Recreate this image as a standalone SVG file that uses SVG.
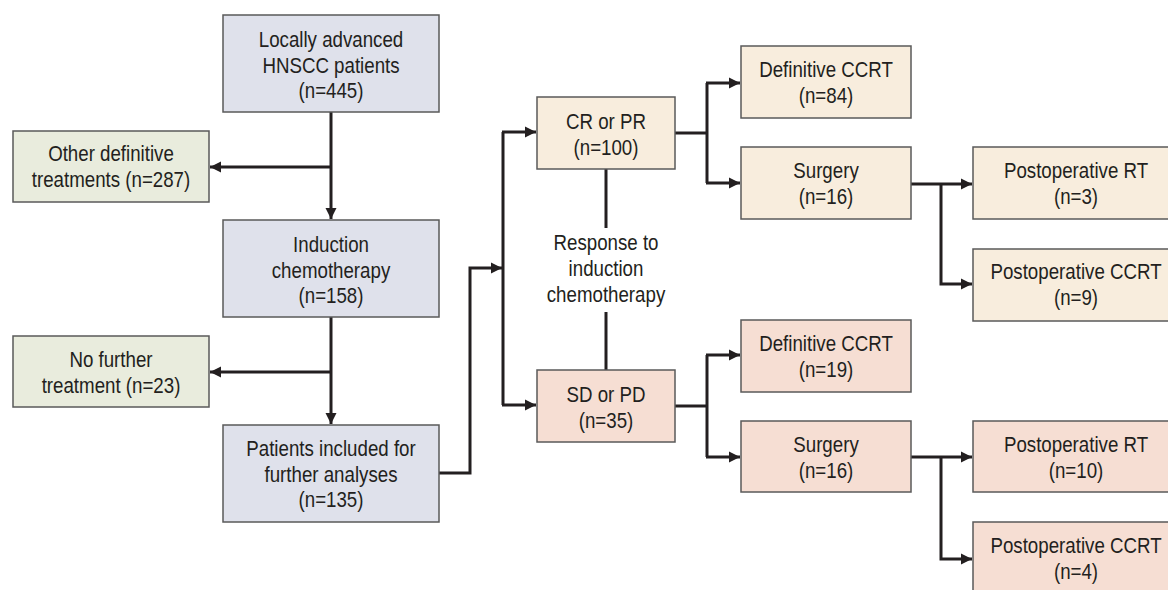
<svg xmlns="http://www.w3.org/2000/svg" width="1168" height="590" viewBox="0 0 1168 590">
<defs>
<marker id="ah" markerUnits="userSpaceOnUse" markerWidth="12" markerHeight="12" refX="11" refY="6" orient="auto">
<path d="M0,0.5 L11,6 L0,11.5 Z" fill="#231f20"/>
</marker>
<style>
.box{stroke:#5a5a5a;stroke-width:1.5}
.blue{fill:#dfe1eb}
.green{fill:#e9ecdd}
.cream{fill:#f8eddd}
.pink{fill:#f6ded3}
text{font-family:"Liberation Sans",Arial,sans-serif;font-size:21.5px;fill:#231f20;text-anchor:middle}
.ln{fill:none;stroke:#231f20;stroke-width:3}
.ar{fill:none;stroke:#231f20;stroke-width:3;marker-end:url(#ah)}
</style>
</defs>
<rect width="1168" height="590" fill="#ffffff"/>
<g id="connectors">
<path class="ar" d="M331,112 V219"/>
<path class="ar" d="M331,167 H210"/>
<path class="ar" d="M331,317 V424"/>
<path class="ar" d="M331,372 H210"/>
<path class="ar" d="M439,473 H470 V268 H502"/>
<path class="ln" d="M503,132 V405"/>
<path class="ar" d="M502,132 H536"/>
<path class="ar" d="M502,405 H536"/>
<path class="ln" d="M606,169 V228"/>
<path class="ln" d="M606,312 V370"/>
<path class="ln" d="M675,133 H707"/>
<path class="ln" d="M707,83 V183"/>
<path class="ar" d="M706,83 H740"/>
<path class="ar" d="M706,183 H740"/>
<path class="ln" d="M675,406 H707"/>
<path class="ln" d="M707,355 V457"/>
<path class="ar" d="M706,355 H740"/>
<path class="ar" d="M706,457 H740"/>
<path class="ar" d="M911,184 H972"/>
<path class="ar" d="M941,184 V284 H972"/>
<path class="ar" d="M911,457 H972"/>
<path class="ar" d="M941,457 V559 H972"/>
</g>
<g id="n-locally">
<rect class="box blue" x="223" y="15" width="216" height="97"/>
<text transform="translate(331 0) scale(0.87 1)" y="47">Locally advanced</text>
<text transform="translate(331 0) scale(0.87 1)" y="73">HNSCC patients</text>
<text transform="translate(331 0) scale(0.87 1)" y="98">(n=445)</text>
</g>
<g id="n-other">
<rect class="box green" x="13" y="131" width="196" height="71"/>
<text transform="translate(111 0) scale(0.87 1)" y="161">Other definitive</text>
<text transform="translate(111 0) scale(0.87 1)" y="187">treatments (n=287)</text>
</g>
<g id="n-induction">
<rect class="box blue" x="223" y="220" width="216" height="97"/>
<text transform="translate(331 0) scale(0.87 1)" y="252">Induction</text>
<text transform="translate(331 0) scale(0.87 1)" y="278">chemotherapy</text>
<text transform="translate(331 0) scale(0.87 1)" y="303">(n=158)</text>
</g>
<g id="n-nofurther">
<rect class="box green" x="13" y="336" width="196" height="71"/>
<text transform="translate(111 0) scale(0.87 1)" y="367">No further</text>
<text transform="translate(111 0) scale(0.87 1)" y="393">treatment (n=23)</text>
</g>
<g id="n-patients">
<rect class="box blue" x="223" y="425" width="216" height="97"/>
<text transform="translate(331 0) scale(0.87 1)" y="456">Patients included for</text>
<text transform="translate(331 0) scale(0.87 1)" y="482">further analyses</text>
<text transform="translate(331 0) scale(0.87 1)" y="507">(n=135)</text>
</g>
<g id="n-crpr">
<rect class="box cream" x="537" y="97" width="138" height="72"/>
<text transform="translate(606 0) scale(0.87 1)" y="129">CR or PR</text>
<text transform="translate(606 0) scale(0.87 1)" y="155">(n=100)</text>
</g>
<g id="n-response">
<text transform="translate(606 0) scale(0.87 1)" y="250">Response to</text>
<text transform="translate(606 0) scale(0.87 1)" y="276">induction</text>
<text transform="translate(606 0) scale(0.87 1)" y="302">chemotherapy</text>
</g>
<g id="n-sdpd">
<rect class="box pink" x="537" y="370" width="138" height="72"/>
<text transform="translate(606 0) scale(0.87 1)" y="402">SD or PD</text>
<text transform="translate(606 0) scale(0.87 1)" y="428">(n=35)</text>
</g>
<g id="n-defccrt1">
<rect class="box cream" x="741" y="46" width="170" height="72"/>
<text transform="translate(826 0) scale(0.87 1)" y="77">Definitive CCRT</text>
<text transform="translate(826 0) scale(0.87 1)" y="103">(n=84)</text>
</g>
<g id="n-surgery1">
<rect class="box cream" x="741" y="147" width="170" height="72"/>
<text transform="translate(826 0) scale(0.87 1)" y="178">Surgery</text>
<text transform="translate(826 0) scale(0.87 1)" y="204">(n=16)</text>
</g>
<g id="n-postrt1">
<rect class="box cream" x="973" y="147" width="206" height="72"/>
<text transform="translate(1076 0) scale(0.87 1)" y="178">Postoperative RT</text>
<text transform="translate(1076 0) scale(0.87 1)" y="204">(n=3)</text>
</g>
<g id="n-postccrt1">
<rect class="box cream" x="973" y="249" width="206" height="72"/>
<text transform="translate(1076 0) scale(0.87 1)" y="279">Postoperative CCRT</text>
<text transform="translate(1076 0) scale(0.87 1)" y="305">(n=9)</text>
</g>
<g id="n-defccrt2">
<rect class="box pink" x="741" y="320" width="170" height="72"/>
<text transform="translate(826 0) scale(0.87 1)" y="351">Definitive CCRT</text>
<text transform="translate(826 0) scale(0.87 1)" y="377">(n=19)</text>
</g>
<g id="n-surgery2">
<rect class="box pink" x="741" y="421" width="170" height="71"/>
<text transform="translate(826 0) scale(0.87 1)" y="452">Surgery</text>
<text transform="translate(826 0) scale(0.87 1)" y="478">(n=16)</text>
</g>
<g id="n-postrt2">
<rect class="box pink" x="973" y="421" width="206" height="71"/>
<text transform="translate(1076 0) scale(0.87 1)" y="452">Postoperative RT</text>
<text transform="translate(1076 0) scale(0.87 1)" y="478">(n=10)</text>
</g>
<g id="n-postccrt2">
<rect class="box pink" x="973" y="522" width="206" height="72"/>
<text transform="translate(1076 0) scale(0.87 1)" y="553">Postoperative CCRT</text>
<text transform="translate(1076 0) scale(0.87 1)" y="579">(n=4)</text>
</g>
</svg>
